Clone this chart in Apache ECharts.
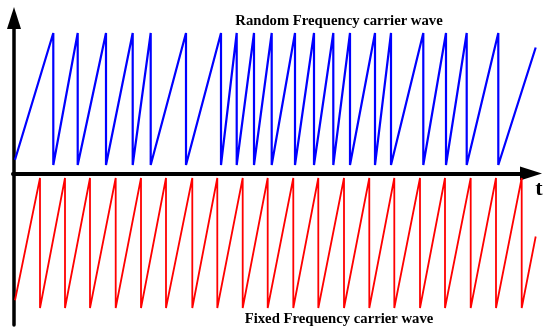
<!DOCTYPE html>
<html>
<head>
<meta charset="utf-8">
<script src="https://cdn.jsdelivr.net/npm/echarts@6/dist/echarts.min.js"></script>
<style>
  html, body { margin: 0; padding: 0; background: #fff; }
  #chart { width: 550px; height: 335px; }
</style>
</head>
<body>
<div id="chart"></div>
<script>
// time of each ramp reset (peak)
var randomPeaks = [38.3, 62.7, 91, 117.7, 135.7, 171, 206, 221.7, 239, 256.7, 280, 299, 318.3, 335, 360, 376, 408.3, 431, 451.7, 483.3];
var randomStart = 0.04;
var randomEnd = [520.7, 0.89];

var fixedPeaks = [25, 50, 75, 100.7, 126, 151, 177.3, 202.3, 227.7, 252.7, 278.3, 303.3, 329, 354.3, 379.3, 405, 430, 455.7, 481, 506.7];
var fixedStart = 0.06;
var fixedEnd = [520.7, 0.55];

var titles = ['Random Frequency carrier wave', 'Fixed Frequency carrier wave'];

// sawtooth: ramp up to 1, drop straight back to 0
function sawtooth(peaks, start, end) {
    var pts = [[0, start]];
    peaks.forEach(function (p) {
        pts.push([p, 1]);
        pts.push([p, 0]);
    });
    pts.push(end);
    return pts;
}

var chart = echarts.init(document.getElementById('chart'));

var hidden = { show: false };
var serif = '"Liberation Serif", "Times New Roman", serif';

// arrow axis line, shared by t and the vertical axis
function arrowLine(width) {
    return {
        show: true,
        onZero: false,
        symbol: ['none', 'triangle'],
        symbolSize: [14, 22],
        lineStyle: { color: '#000', width: width }
    };
}

chart.setOption({
    animation: false,
    grid: [
        { left: 15, right: 8, top: 33, height: 132 },
        { left: 15, right: 8, top: 178, height: 130 },
        { left: 14, right: 8, top: 18, bottom: 10 },
        { left: 13, right: 19, top: 0, height: 173.5 }
    ],
    xAxis: [
        { gridIndex: 0, type: 'value', min: 0, max: 527, show: false },
        { gridIndex: 1, type: 'value', min: 0, max: 527, show: false },
        { gridIndex: 2, type: 'value', min: 0, max: 1, show: false },
        {
            gridIndex: 3, type: 'value', min: 0, max: 1,
            axisLine: arrowLine(4),
            axisTick: hidden, axisLabel: hidden, splitLine: hidden
        }
    ],
    yAxis: [
        { gridIndex: 0, type: 'value', min: 0, max: 1, show: false },
        { gridIndex: 1, type: 'value', min: 0, max: 1, show: false },
        {
            gridIndex: 2, type: 'value', min: 0, max: 1,
            axisLine: arrowLine(3.5),
            axisTick: hidden, axisLabel: hidden, splitLine: hidden
        },
        { gridIndex: 3, type: 'value', min: 0, max: 1, show: false }
    ],
    series: [
        {
            type: 'line', xAxisIndex: 0, yAxisIndex: 0,
            data: sawtooth(randomPeaks, randomStart, randomEnd),
            showSymbol: false,
            lineStyle: { color: '#0000ff', width: 2.2 },
            z: 1
        },
        {
            type: 'line', xAxisIndex: 1, yAxisIndex: 1,
            data: sawtooth(fixedPeaks, fixedStart, fixedEnd),
            showSymbol: false,
            lineStyle: { color: '#ff0000', width: 1.8 },
            z: 1
        }
    ],
    graphic: [
        {
            type: 'text', x: 339, y: 21,
            style: { text: titles[0], font: 'bold 14.7px ' + serif, fill: '#000', align: 'center', verticalAlign: 'middle' }
        },
        {
            type: 'text', x: 339, y: 319,
            style: { text: titles[1], font: 'bold 14.7px ' + serif, fill: '#000', align: 'center', verticalAlign: 'middle' }
        },
        {
            type: 'text', x: 539, y: 189,
            style: { text: 't', font: 'bold 22px ' + serif, fill: '#000', align: 'center', verticalAlign: 'middle' }
        }
    ]
});
</script>
</body>
</html>
